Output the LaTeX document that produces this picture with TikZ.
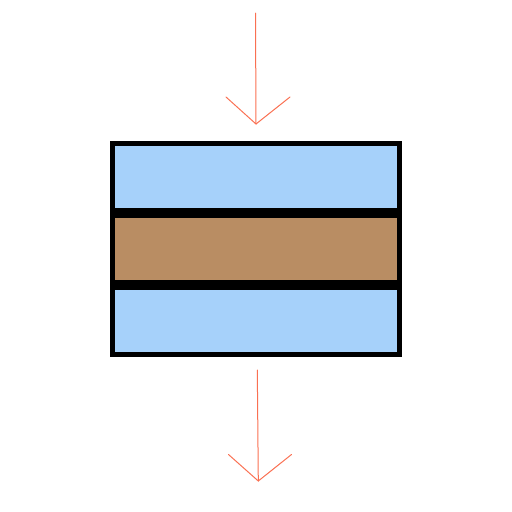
\documentclass[tikz,border=0pt]{standalone}
\definecolor{layerblue}{RGB}{166,209,250}
\definecolor{layerbrown}{RGB}{185,141,99}
\definecolor{arrowred}{RGB}{250,112,82}
\tikzset{
  flow/.style={draw=arrowred, line width=1pt, line cap=round, line join=miter},
}
\begin{document}
\begin{tikzpicture}[x=1pt,y=-1pt]
\useasboundingbox (0,0) rectangle (512,512);
% frame
\fill[black] (110,141) rectangle (402,357);
\fill[layerblue] (115,146) rectangle (397,208);
\fill[layerbrown] (115,218) rectangle (397,280);
\fill[layerblue] (115,290) rectangle (397,352);
% top arrow
\coordinate (t1) at (255.5,13);
\coordinate (t2) at (256,124);
\coordinate (tl) at (226,97);
\coordinate (tr) at (290,97);
\draw[flow] (t1) -- (t2);
\draw[flow] (tl) -- (t2) -- (tr);
% bottom arrow
\coordinate (b1) at (257.3,370);
\coordinate (b2) at (258.3,481);
\coordinate (bl) at (228.5,454.5);
\coordinate (br) at (291.5,454.5);
\draw[flow] (b1) -- (b2);
\draw[flow] (bl) -- (b2) -- (br);
\end{tikzpicture}
\end{document}
